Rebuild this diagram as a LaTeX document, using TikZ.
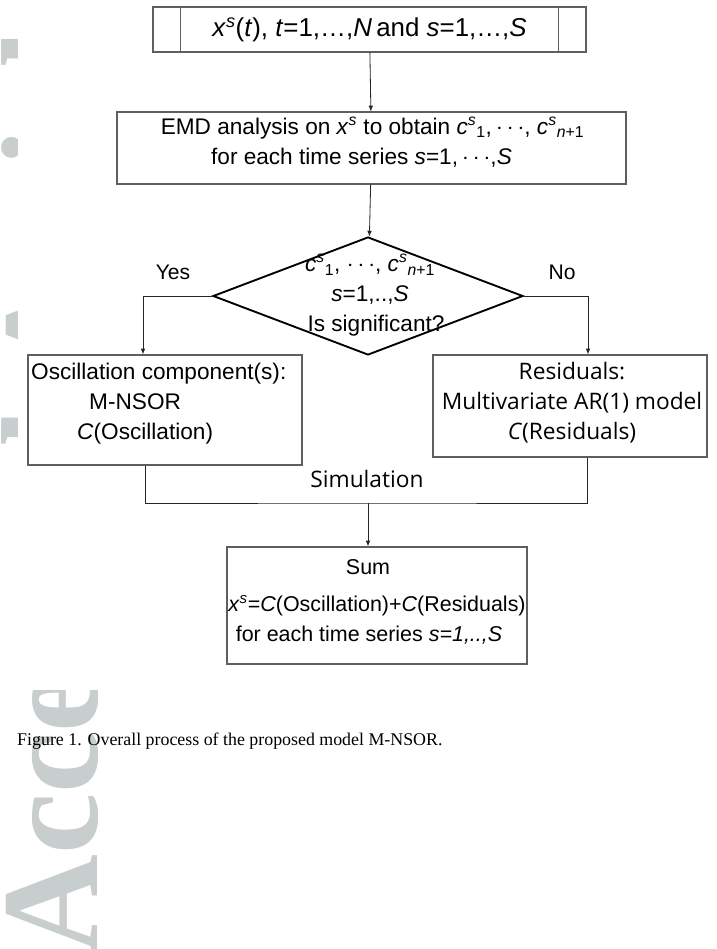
\documentclass[tikz,border=0pt]{standalone}
\usepackage{fontspec}
\setmainfont{Liberation Sans}
\newfontfamily\segoe{Open Sans}
\newfontfamily\timesf{Liberation Serif}
\usetikzlibrary{shapes.geometric,arrows.meta,positioning}
\definecolor{boxgray}{RGB}{95,95,95}
\definecolor{wmgray}{RGB}{200,205,205}
\newdimen\px \px=0.03cm
\newcommand{\vsp}[1]{\textsuperscript{\textit{#1}}}
\newcommand{\vsb}[1]{\textsubscript{#1}}
\tikzset{
  procbox/.style={draw=boxgray, line width=0.9pt, inner sep=0pt},
  decbox/.style={draw=black, line width=1.6pt, diamond, inner sep=0pt},
  link/.style={draw=black!85, line width=0.7pt},
  arr/.style={link, -{Latex[length=5pt,width=4pt]}},
  ftext/.style={font=\fontsize{19.3}{25.5}\selectfont, inner sep=0pt},
  stext/.style={font=\segoe\fontsize{19.4}{25.5}\selectfont, inner sep=0pt}
}
\begin{document}
\begin{tikzpicture}[x=0.03cm,y=-0.03cm]
\useasboundingbox (0,0) rectangle (716,949);
%Watermark
\begin{scope}
\clip (0,0) -- (17,0) -- (17,690) -- (97,690) -- (97,949) -- (0,949) -- cycle;
\node[rotate=90, anchor=base west, text=wmgray, inner sep=0pt,
  font=\timesf\bfseries\fontsize{118}{120}\selectfont] (wmark) at (97,955) {Accepted Article};
\end{scope}
%Input
\node[procbox, minimum width=433*\px, minimum height=45*\px, font=\fontsize{22.1}{25}\selectfont]
  (input) at (369.5,29.5) {\textit{x}\vsp{s}(\textit{t}), \textit{t}=1,\ldots,\textit{N}\,and \textit{s}=1,\ldots,\textit{S}};
\draw[procbox] ([xshift=28*\px]input.north west) -- ([xshift=28*\px]input.south west);
\draw[procbox] ([xshift=-28*\px]input.north east) -- ([xshift=-28*\px]input.south east);
%EMD
\node[procbox, minimum width=509*\px, minimum height=72*\px] (emd) at (371.5,148) {};
\node[ftext, align=center] (emdtext) at (372.5,142)
  {EMD analysis on \textit{x}\vsp{s} to obtain \textit{c}\vsp{s}\vsb{1},$\,\cdots$, \textit{c}\vsp{s}\vsb{\textit{n}+1}\\
   for each time series \textit{s}=1,$\,\cdots$,\textit{S}\hspace*{22\px}};
%Decision
\node[decbox, minimum width=310*\px, minimum height=118*\px] (dec) at (368,296) {};
\node[ftext, align=center] (dectext) at (370,295)
  {\textit{c}\vsp{s}\vsb{1}, $\cdots$, \textit{c}\vsp{s}\vsb{\textit{n}+1}\\
   \textit{s}=1,..,\textit{S}\\
   \hspace*{12\px}Is significant?};
\node[font=\fontsize{18}{22}\selectfont, inner sep=0pt] (yes) at (173,272) {Yes};
\node[font=\fontsize{18}{22}\selectfont, inner sep=0pt] (no) at (562,272) {No};
%Branches
\node[procbox, minimum width=274*\px, minimum height=110*\px] (osc) at (165,410) {};
\node[ftext, align=left, anchor=west] (osctext) at (31,404)
  {Oscillation component(s):\\
   \hspace*{58\px}M-NSOR\\
   \hspace*{46\px}\textit{C}(Oscillation)};
\node[procbox, minimum width=274*\px, minimum height=102*\px] (res) at (570,406) {};
\node[stext, align=center] (restext) at (572,403)
  {Residuals:\\
   Multivariate AR(1) model\\
   \textit{C}(Residuals)};
%Sum
\node[procbox, minimum width=300*\px, minimum height=117*\px] (sum) at (377,605.5) {};
\node[ftext, font=\fontsize{18.3}{25.5}\selectfont, align=center] (sumtext) at (377,601.5)
  {\hspace*{-18\px}Sum\\[6pt]
   \textit{x}\vsp{s}=\textit{C}(Oscillation)+\textit{C}(Residuals)\\
   \hspace*{-16\px}for each time series \textit{s=1,..,S}};
%Connectors
\coordinate (simjoin) at (368,503);
\draw[arr] (input) -- (emd);
\draw[arr] (emd) -- (dec);
\draw[arr] (dec.west) -| ([xshift=-22*\px]osc.north);
\draw[arr] (dec.east) -| ([xshift=18*\px]res.north);
\draw[link] ([xshift=-20*\px]osc.south) |- (simjoin) -| ([xshift=17*\px]res.south);
\draw[arr] (simjoin) -- (simjoin |- sum.north);
\node[stext] (simlabel) at (367,479) {Simulation};
%Caption
\node[anchor=base west, inner sep=0pt, font=\timesf\fontsize{15.25}{18}\selectfont]
  (caption) at (17,745) {Figure 1. Overall process of the proposed model M-NSOR.};
\end{tikzpicture}
\end{document}
